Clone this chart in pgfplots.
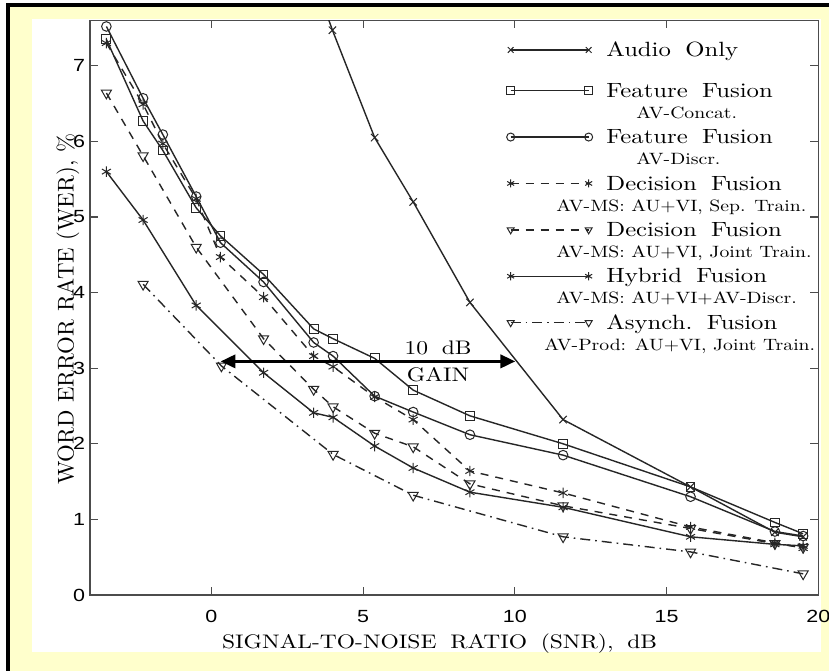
\documentclass[border=0pt]{standalone}
\usepackage{fontspec}
\setmainfont{lmroman10-regular.otf}[FakeStretch=1.2]
\newfontfamily\lmr{lmroman10-regular.otf}
\newfontfamily\helv{Liberation Sans}[FakeStretch=1.22]
\usepackage{pgfplots}
\pgfplotsset{compat=1.18}
\usetikzlibrary{arrows.meta}
\definecolor{bgyellow}{HTML}{FFFFCC}
\newcommand\ws{\hspace{0.7em}}
% #1 main text, #2 offset of the second line from the main text's left edge, #3 second line
\newcommand\lent[3]{\begin{tabular}[t]{@{}l@{}}#1\\\makebox[0pt][l]{\hspace*{#2}\fontsize{8.2}{9}\selectfont #3}\end{tabular}}
\pgfplotsset{
  lin/.style={black!85, line width=0.7pt},
  mo/.style={mark options={solid, line width=0.5pt, black!85}},
  mot/.style={mark options={solid, line width=0.5pt, black!85, rotate=180}},
  dsh/.style={dash pattern=on 4pt off 3.5pt},
  dshdot/.style={dash pattern=on 5pt off 2.5pt on 0.8pt off 2.5pt},
}
\begin{document}
\begin{tikzpicture}
\useasboundingbox (0pt,0pt) rectangle (414.5pt,335.5pt);
\clip (0pt,0pt) rectangle (414.5pt,335.5pt);
\fill[white] (0pt,0pt) rectangle (414.5pt,335.5pt);
\fill[black] (3pt,0pt) rectangle (414.5pt,334pt);
\fill[bgyellow] (5pt,0pt) rectangle (414.5pt,332pt);
\fill[white] (16pt,9.5pt) rectangle (410.5pt,325.75pt);
\begin{axis}[
  at={(45pt,38pt)}, anchor=south west,
  width=364.15pt, height=287.3pt, scale only axis,
  xmin=-4, xmax=20, ymin=0, ymax=7.6,
  xtick={0,5,10,15,20}, ytick={0,1,...,7},
  tick align=inside, tick pos=both,
  major tick length=4pt,
  axis line style={black!70, line width=0.8pt},
  every tick/.style={black!70, line width=0.6pt},
  clip marker paths=true,
  /pgf/number format/assume math mode=true,
  tick label style={font=\helv\fontsize{8.8}{10}\selectfont, inner sep=0pt, outer sep=0pt},
  xticklabel style={anchor=north, yshift=-7.5pt},
  yticklabel style={anchor=east, xshift=-2.5pt},
  xlabel={SIGNAL-TO-NOISE\ws RATIO\ws (SNR),\ws dB},
  ylabel={WORD ERROR RATE (WER), \%},
  every axis x label/.style={at={(axis description cs:0.48,-0.0931)}, anchor=base, font=\fontsize{9.8}{11}\selectfont},
  every axis y label/.style={at={(axis description cs:-0.0224,0.497)}, rotate=90, anchor=base, font=\lmr\fontsize{11.4}{13}\selectfont},
  legend style={at={(axis description cs:0.5684,0.9626)}, anchor=north west, draw=none, fill=none,
    inner sep=0pt, outer sep=0pt, row sep=2.2pt, column sep=5.5pt,
    font=\fontsize{10.3}{10.5}\selectfont,
    nodes={inner sep=0pt, outer sep=0pt, text depth=, text height=}, cells={anchor=base west}},
  legend image code/.code={\path (-3pt,0pt) (42pt,0pt); \draw[#1] plot coordinates {(0pt,3.35pt) (39pt,3.35pt)};},
  legend image post style={mark size=2pt},
]
% Audio only
\addplot[lin, mo, mark=x, mark size=2.6pt] coordinates {
(3.2,8.35) (3.99,7.47) (5.38,6.05) (6.65,5.20) (8.52,3.87) (11.59,2.32) (15.79,1.43) (18.57,0.83) (19.5,0.77)};
\addlegendentry{\begin{tabular}[t]{@{}c@{}}Audio\ws Only\\[-2.85pt]\mbox{}\end{tabular}}
% Feature fusion AV-Concat
\addplot[lin, mo, mark=square, mark size=2.2pt] coordinates {
(-3.46,7.35) (-2.25,6.27) (-1.6,5.88) (-0.5,5.12) (0.3,4.75) (1.72,4.24) (3.37,3.52) (4.01,3.39)
(5.38,3.13) (6.65,2.71) (8.52,2.37) (11.59,2.00) (15.79,1.43) (18.57,0.96) (19.5,0.81)};
\addlegendentry{\lent{Feature\ws Fusion}{15pt}{AV-Concat.}}
% Feature fusion AV-Discr
\addplot[lin, mo, mark=o, mark size=2.4pt] coordinates {
(-3.46,7.52) (-2.25,6.57) (-1.6,6.09) (-0.5,5.27) (0.3,4.66) (1.72,4.14) (3.37,3.34) (4.01,3.16)
(5.38,2.63) (6.65,2.42) (8.52,2.12) (11.59,1.85) (15.79,1.30) (18.57,0.84) (19.5,0.78)};
\addlegendentry{\lent{Feature\ws Fusion}{15pt}{AV-Discr.}}
% Decision fusion sep train
\addplot[lin, dsh, mo, mark=asterisk, mark size=2.6pt] coordinates {
(-3.46,7.30) (-2.25,6.49) (-1.6,5.97) (-0.5,5.24) (0.3,4.47) (1.72,3.94) (3.37,3.16) (4.01,3.02)
(5.38,2.62) (6.65,2.32) (8.52,1.64) (11.59,1.35) (15.79,0.90) (18.57,0.69) (19.5,0.62)};
\addlegendentry{\lent{Decision\ws Fusion}{-25pt}{AV-MS: AU+VI, Sep. Train.}}
% Decision fusion joint train
\addplot[lin, dsh, mot, mark=triangle, mark size=2.9pt] coordinates {
(-3.46,6.64) (-2.25,5.81) (-0.5,4.60) (1.72,3.39) (3.37,2.72) (4.01,2.49) (5.38,2.14)
(6.65,1.96) (8.52,1.47) (11.59,1.18) (15.79,0.88) (18.57,0.68) (19.5,0.63)};
\addlegendentry{\lent{Decision\ws Fusion}{-25pt}{AV-MS: AU+VI, Joint Train.}}
% Hybrid fusion
\addplot[lin, mo, mark=asterisk, mark size=2.6pt] coordinates {
(-3.46,5.60) (-2.25,4.96) (-0.5,3.83) (1.72,2.94) (3.37,2.41) (4.01,2.35) (5.38,1.97)
(6.65,1.68) (8.52,1.36) (11.59,1.16) (15.79,0.77) (18.57,0.67) (19.5,0.65)};
\addlegendentry{\lent{Hybrid\ws Fusion}{-25pt}{AV-MS: AU+VI+AV-Discr.}}
% Asynch fusion
\addplot[lin, dshdot, mot, mark=triangle, mark size=2.9pt] coordinates {
(-2.25,4.11) (0.33,3.03) (4.01,1.86) (6.65,1.32) (11.59,0.77) (15.79,0.57) (19.5,0.28)};
\addlegendentry{\lent{Asynch.\ws Fusion}{-31pt}{AV-Prod: AU+VI, Joint Train.}}
% 10 dB gain arrow
\addplot[forget plot, black, line width=1.8pt,
  {Triangle[length=7.5pt,width=6.5pt]}-{Triangle[length=7.5pt,width=6.5pt]}]
  coordinates {(0.3,3.09) (10.02,3.09)};
\node[font=\fontsize{9.8}{11}\selectfont] at (axis cs:7.47,3.27) {10\ws dB};
\node[font=\fontsize{9.8}{11}\selectfont] at (axis cs:7.47,2.91) {GAIN};
\end{axis}
\end{tikzpicture}
\end{document}
